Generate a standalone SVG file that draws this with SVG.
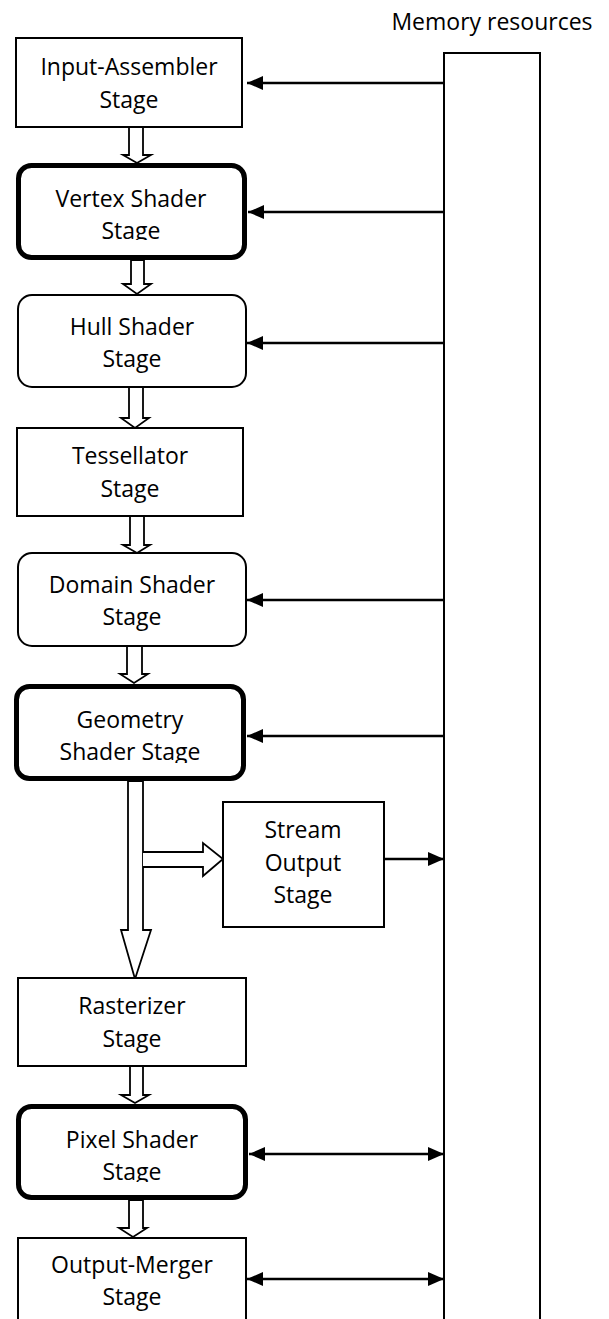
<svg xmlns="http://www.w3.org/2000/svg" width="609" height="1319" viewBox="0 0 609 1319">
<style>
.box{fill:#fff;stroke:#000;stroke-width:2}
.thick{fill:#fff;stroke:#000;stroke-width:5}
.t{font-family:"Open Sans","Noto Sans","Liberation Sans",sans-serif;font-size:23px;fill:#000;text-anchor:middle}
.blk{fill:#fff;stroke:#000;stroke-width:1.8;stroke-linejoin:miter}
.ln{fill:none;stroke:#000;stroke-width:2.5}
</style>
<defs>
<marker id="ah" markerUnits="userSpaceOnUse" markerWidth="16" markerHeight="14" refX="16" refY="7" orient="auto-start-reverse">
<path d="M0,0 L16,7 L0,14 Z" fill="#000"/>
</marker>
<clipPath id="cVS"><rect x="0" y="160" width="300" height="80"/></clipPath>
<clipPath id="cGS"><rect x="0" y="680" width="300" height="83"/></clipPath>
<clipPath id="cPS"><rect x="0" y="1100" width="300" height="82"/></clipPath>
</defs>

<g id="memory">
<rect x="444" y="53" width="96" height="1300" class="box"/>
<text class="t" x="492" y="30">Memory resources</text>
</g>

<g id="connectors">
<line class="ln" x1="444" y1="83" x2="247" y2="83" marker-end="url(#ah)"/>
<line class="ln" x1="444" y1="212" x2="248" y2="212" marker-end="url(#ah)"/>
<line class="ln" x1="444" y1="343" x2="247" y2="343" marker-end="url(#ah)"/>
<line class="ln" x1="444" y1="600" x2="247" y2="600" marker-end="url(#ah)"/>
<line class="ln" x1="444" y1="736" x2="247" y2="736" marker-end="url(#ah)"/>
<line class="ln" x1="384" y1="859" x2="444" y2="859" marker-end="url(#ah)"/>
<line class="ln" x1="249" y1="1154" x2="444" y2="1154" marker-start="url(#ah)" marker-end="url(#ah)"/>
<line class="ln" x1="247" y1="1279" x2="444" y2="1279" marker-start="url(#ah)" marker-end="url(#ah)"/>
<path class="blk" d="M129,127 L143,127 L143,155 L151,155 L137,163 L123,155 L129,155 Z"/>
<path class="blk" d="M131,260 L144,260 L144,284 L151,284 L137,294 L123,284 L131,284 Z"/>
<path class="blk" d="M129,387 L143,387 L143,418 L149,418 L135,428 L121,418 L129,418 Z"/>
<path class="blk" d="M130,516 L144,516 L144,545 L150,545 L137,553 L123,545 L130,545 Z"/>
<path class="blk" d="M127,646 L142,646 L142,674 L148,674 L134,683 L120,674 L127,674 Z"/>
<path class="blk" d="M128,781 L143,781 L143,930 L151,930 L135,979 L121,930 L128,930 Z"/>
<path class="blk" d="M143,852 L203,852 L203,843 L223,859 L203,876 L203,867 L143,867"/>
<path class="blk" d="M130,1066 L143,1066 L143,1095 L149,1095 L135,1103 L121,1095 L130,1095 Z"/>
<path class="blk" d="M129,1200 L143,1200 L143,1228 L147,1228 L133,1237 L119,1228 L129,1228 Z"/>
</g>

<g id="input-assembler">
<rect x="16" y="38" width="226" height="89" class="box"/>
<text class="t" x="129" y="75">Input-Assembler</text>
<text class="t" x="129" y="108">Stage</text>
</g>

<g id="vertex-shader">
<rect x="18.5" y="165.5" width="226" height="92" rx="13" class="thick"/>
<g clip-path="url(#cVS)">
<text class="t" x="131" y="207">Vertex Shader</text>
<text class="t" x="131" y="239">Stage</text>
</g>
</g>

<g id="hull-shader">
<rect x="18" y="295" width="228" height="92" rx="14" class="box"/>
<text class="t" x="132" y="335">Hull Shader</text>
<text class="t" x="132" y="367">Stage</text>
</g>

<g id="tessellator">
<rect x="17" y="428" width="226" height="88" class="box"/>
<text class="t" x="130" y="464">Tessellator</text>
<text class="t" x="130" y="497">Stage</text>
</g>

<g id="domain-shader">
<rect x="18" y="553" width="228" height="93" rx="14" class="box"/>
<text class="t" x="132" y="593">Domain Shader</text>
<text class="t" x="132" y="625">Stage</text>
</g>

<g id="geometry-shader">
<rect x="16.5" y="686.5" width="227" height="92" rx="13" class="thick"/>
<g clip-path="url(#cGS)">
<text class="t" x="130" y="728">Geometry</text>
<text class="t" x="130" y="760">Shader Stage</text>
</g>
</g>

<g id="stream-output">
<rect x="223" y="802" width="161" height="125" class="box"/>
<text class="t" x="303" y="838">Stream</text>
<text class="t" x="303" y="871">Output</text>
<text class="t" x="303" y="903">Stage</text>
</g>

<g id="rasterizer">
<rect x="18" y="978" width="228" height="88" class="box"/>
<text class="t" x="132" y="1014">Rasterizer</text>
<text class="t" x="132" y="1047">Stage</text>
</g>

<g id="pixel-shader">
<rect x="18.5" y="1106.5" width="227" height="91" rx="13" class="thick"/>
<g clip-path="url(#cPS)">
<text class="t" x="132" y="1148">Pixel Shader</text>
<text class="t" x="132" y="1180">Stage</text>
</g>
</g>

<g id="output-merger">
<rect x="18" y="1238" width="228" height="110" class="box"/>
<text class="t" x="132" y="1273">Output-Merger</text>
<text class="t" x="132" y="1305">Stage</text>
</g>
</svg>
